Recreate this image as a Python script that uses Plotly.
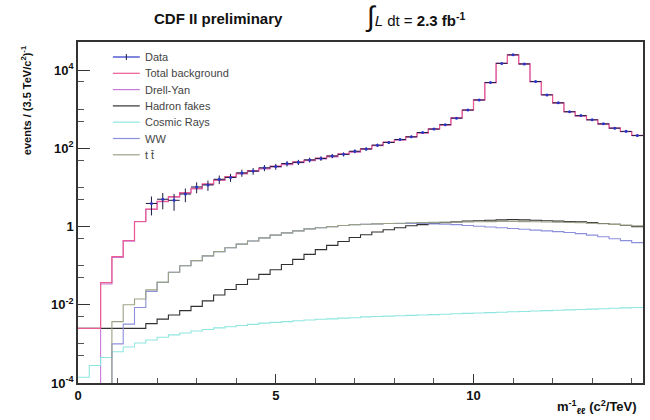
import numpy as np
import plotly.graph_objects as go

# 50 bins in 1/m, each (3.5 TeV/c^2)^-1 wide
n_bins = 50
bin_width = 1 / 3.5
edges = np.arange(n_bins + 1) * bin_width
centers = edges[:-1] + bin_width / 2

total_bkg = [0.0025, 0.0025, 0.037, 0.17, 0.44, 1.35, 2.8, 4.4, 5.8, 7.4,
             9.5, 12.3, 15.5, 19, 23, 27, 31, 35, 40, 45,
             50, 56, 63, 72, 83, 98, 120, 145, 166, 200,
             250, 316, 400, 600, 950, 1740, 4800, 15000, 24500, 14500,
             5100, 2350, 1450, 870, 680, 540, 420, 330, 270, 215]

data_first_bin = 6
data_vals = [3.9, 5.0, 4.7, 6.8, 10.3, 11.6, 16.2, 18.1, 23.6, 26.2,
             31.8, 34.2, 40.8, 44.1, 50.7, 55.3, 63.9, 70.4, 84.6, 96.5,
             121, 142, 169, 197, 254, 311, 404, 592, 958, 1725,
             4840, 14900, 24600, 14400, 5140, 2330, 1460, 862, 688, 536,
             424, 329, 272, 212]

hadron_fakes = [0.0025, 0.0025, 0.0025, 0.0025, 0.0025, 0.0025, 0.0033, 0.0043, 0.0055, 0.0071,
                0.0091, 0.0126, 0.0178, 0.0245, 0.033, 0.045, 0.060, 0.079, 0.107, 0.145,
                0.195, 0.257, 0.331, 0.417, 0.525, 0.617, 0.724, 0.832, 0.933, 1.05,
                1.12, 1.20, 1.26, 1.32, 1.38, 1.41, 1.45, 1.48, 1.51, 1.48,
                1.45, 1.41, 1.38, 1.35, 1.32, 1.26, 1.20, 1.15, 1.07, 1.0]

cosmic_rays = [0.00014, 0.00028, 0.00045, 0.00063, 0.00083, 0.00105, 0.00126, 0.00148, 0.0017, 0.0019,
               0.00214, 0.00234, 0.00257, 0.00275, 0.00295, 0.00316, 0.00339, 0.00355, 0.00372, 0.00389,
               0.00407, 0.00427, 0.00437, 0.00457, 0.00468, 0.0049, 0.00501, 0.00513, 0.00525, 0.00537,
               0.0055, 0.00562, 0.00575, 0.00589, 0.00603, 0.00617, 0.00631, 0.00646, 0.00661, 0.00676,
               0.00692, 0.00708, 0.00724, 0.00741, 0.00759, 0.00776, 0.00794, 0.00813, 0.00832, 0.00851]

ww = [0, 0, 0, 0.001, 0.0032, 0.0085, 0.022, 0.037, 0.068, 0.10,
      0.135, 0.178, 0.229, 0.288, 0.355, 0.427, 0.513, 0.603, 0.692, 0.776,
      0.871, 0.933, 1.0, 1.07, 1.12, 1.15, 1.17, 1.20, 1.20, 1.20,
      1.20, 1.17, 1.15, 1.12, 1.07, 1.02, 0.977, 0.933, 0.891, 0.851,
      0.813, 0.776, 0.741, 0.708, 0.661, 0.603, 0.550, 0.490, 0.437, 0.389]

ttbar = [0, 0, 0, 0.0037, 0.01, 0.014, 0.024, 0.038, 0.068, 0.10,
         0.135, 0.178, 0.229, 0.288, 0.355, 0.427, 0.513, 0.603, 0.692, 0.776,
         0.871, 0.933, 1.0, 1.07, 1.12, 1.15, 1.17, 1.20, 1.22, 1.25,
         1.26, 1.28, 1.30, 1.31, 1.32, 1.33, 1.34, 1.35, 1.35, 1.34,
         1.33, 1.31, 1.30, 1.28, 1.26, 1.22, 1.18, 1.14, 1.09, 1.04]

drell_yan = np.clip(np.array(total_bkg) - np.array(hadron_fakes) - np.array(cosmic_rays)
                    - np.array(ww) - np.array(ttbar), 0, None)
drell_yan[:2] = 0

y_tick_vals = [1e-4, 1e-2, 1, 1e2, 1e4]
y_tick_text = ["10<sup>-4</sup>", "10<sup>-2</sup>", "1", "10<sup>2</sup>", "10<sup>4</sup>"]
x_tick_vals = [0, 5, 10]
x_tick_text = ["0", "5", "10"]

FLOOR = 1e-9  # empty bins sit below the axis so the step runs off the bottom

COL_DATA = "#2a35c8"
COL_ERR = "#1a1a40"
COL_TOTAL = "#ec5c92"
COL_DY = "#c878d8"
COL_FAKES = "#303030"
COL_COSMIC = "#8fe6e0"
COL_WW = "#8c90dc"
COL_TT = "#9aa286"


def step_xy(values):
    v = np.where(np.array(values, dtype=float) > 0, values, FLOOR)
    x = list(edges[:-1]) + [edges[-1]]
    y = list(v) + [v[-1]]
    return x, y


fig = go.Figure()

series = [
    ("Drell-Yan", drell_yan, COL_DY),
    ("Hadron fakes", hadron_fakes, COL_FAKES),
    ("Cosmic Rays", cosmic_rays, COL_COSMIC),
    ("WW", ww, COL_WW),
    ("t t\u0304", ttbar, COL_TT),
]

for name, vals, color in series:
    x, y = step_xy(vals)
    fig.add_trace(go.Scatter(x=x, y=y, mode="lines", line=dict(color=color, width=1.1, shape="hv"),
                             name=name, showlegend=False))

x, y = step_xy(total_bkg)
fig.add_trace(go.Scatter(x=x, y=y, mode="lines", line=dict(color=COL_TOTAL, width=1.2, shape="hv"),
                         name="Total background", showlegend=False))

fig.add_trace(go.Scatter(
    x=centers[data_first_bin:], y=data_vals, mode="markers",
    name="Data",
    marker=dict(color=COL_DATA, size=3, symbol="circle"),
    error_y=dict(type="data", array=np.sqrt(data_vals), color=COL_ERR, thickness=1, width=0),
    error_x=dict(type="constant", value=bin_width / 2, color=COL_ERR, thickness=1, width=0),
    showlegend=False,
))

# plot-area geometry in pixels, used to place the hand-drawn legend and labels
W, H = 650, 420
ML, MR, MT, MB = 78, 5, 42, 37
PW, PH = W - ML - MR, H - MT - MB


def px(xp):
    return (xp - ML) / PW


def py(yp):
    return (H - MB - yp) / PH


legend_entries = [
    ("Data", COL_DATA),
    ("Total background", COL_TOTAL),
    ("Drell-Yan", COL_DY),
    ("Hadron fakes", COL_FAKES),
    ("Cosmic Rays", COL_COSMIC),
    ("WW", COL_WW),
    ("t t\u0304", COL_TT),
]
for i, (label, color) in enumerate(legend_entries):
    yp = 57 + 16.3 * i
    fig.add_shape(type="line", xref="paper", yref="paper", x0=px(113), x1=px(140),
                  y0=py(yp), y1=py(yp), line=dict(color=color, width=1.2))
    if label == "Data":
        fig.add_shape(type="line", xref="paper", yref="paper", x0=px(126.5), x1=px(126.5),
                      y0=py(yp - 3), y1=py(yp + 3), line=dict(color=COL_ERR, width=1))
    fig.add_annotation(text=label, x=px(143), y=py(yp), xref="paper", yref="paper",
                       xanchor="left", yanchor="middle", showarrow=False,
                       font=dict(family="Liberation Sans", size=11, color="#444444"))

tick_font = dict(family="Liberation Sans", size=13, color="#111")

fig.update_layout(
    width=W, height=H,
    margin=dict(l=ML, r=MR, t=MT, b=MB),
    paper_bgcolor="white", plot_bgcolor="white",
    showlegend=False,
    xaxis=dict(range=[0, edges[-1]], tickvals=x_tick_vals,
               ticktext=["<b>%s</b>" % t for t in x_tick_text],
               ticks="inside", ticklen=9, tickwidth=1, tickcolor="#333",
               minor=dict(tickvals=list(range(1, 15)), ticks="inside", ticklen=5, tickcolor="#555"),
               showline=True, linecolor="#333", linewidth=1.5, mirror=True,
               showgrid=False, zeroline=False, tickfont=tick_font),
    yaxis=dict(type="log", range=[-4, 4.72], tickvals=y_tick_vals,
               ticktext=["<b>%s</b>" % t for t in y_tick_text],
               ticks="inside", ticklen=12, tickwidth=1, tickcolor="#333",
               minor=dict(tickvals=[10.0 ** k * m for k in range(-4, 5) for m in (1, 5)],
                          ticks="inside", ticklen=6, tickcolor="#555"),
               showline=True, linecolor="#333", linewidth=1.5, mirror=True,
               showgrid=False, zeroline=False, tickfont=tick_font),
)

fig.add_annotation(text="<b>CDF II preliminary</b>", x=px(219), y=py(18), xref="paper", yref="paper",
                   xanchor="center", yanchor="middle", showarrow=False,
                   font=dict(family="Liberation Sans", size=15, color="#111"))
fig.add_annotation(text="<span style='font-size:28px'>\u222b</span><i>L</i> dt = <b>2.3 fb<sup>-1</sup></b>",
                   x=px(364), y=py(16), xref="paper", yref="paper", xanchor="left", yanchor="middle",
                   showarrow=False, font=dict(family="Liberation Sans", size=15, color="#111"))
fig.add_annotation(text="<b>events / (3.5 TeV/c<sup>2</sup>)<sup>-1</sup></b>",
                   x=px(26), y=py(43), xref="paper", yref="paper", xanchor="center", yanchor="top",
                   textangle=-90, showarrow=False, font=dict(family="Liberation Sans", size=11, color="#111"))
fig.add_annotation(text="<b>m<sup>-1</sup><sub>\u2113\u2113</sub> (c<sup>2</sup>/TeV)</b>",
                   x=px(641), y=py(407), xref="paper", yref="paper", xanchor="right", yanchor="middle",
                   showarrow=False, font=dict(family="Liberation Sans", size=13, color="#111"))

fig.write_html("out.html")
